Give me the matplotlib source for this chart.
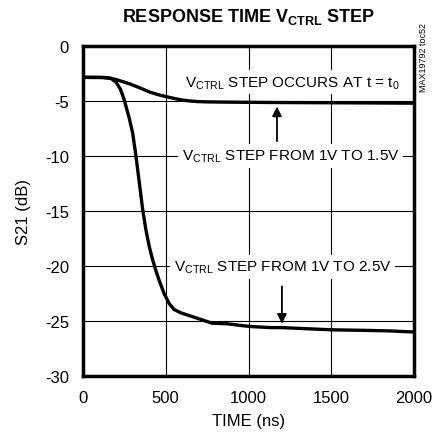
import matplotlib
matplotlib.use("Agg")
import matplotlib.pyplot as plt

plt.rcParams['font.family'] = ['Liberation Sans', 'DejaVu Sans']
plt.rcParams['mathtext.fontset'] = 'custom'
plt.rcParams['mathtext.rm'] = 'Liberation Sans'
plt.rcParams['axes.unicode_minus'] = False

# VCTRL step 1V -> 1.5V
t_small = [0, 100, 145, 200, 284, 350, 405, 460, 507, 560, 604, 650, 689, 750, 850, 1000, 1200, 1500, 1800, 2000]
s21_small = [-2.85, -2.85, -2.87, -3.05, -3.45, -3.85, -4.2, -4.45, -4.62, -4.8, -4.92, -5.0, -5.05, -5.08, -5.1, -5.12, -5.14, -5.16, -5.18, -5.2]

# VCTRL step 1V -> 2.5V
t_large = [0, 120, 170, 200, 225, 245, 262, 280, 300, 320, 340, 360, 380, 400, 420, 440, 460, 490, 520, 550, 590, 630, 670, 710, 780, 870, 950, 1010, 1130, 1200, 1350, 1500, 1700, 1850, 2000]
s21_large = [-2.85, -2.87, -2.95, -3.3, -3.9, -4.7, -5.6, -6.6, -7.9, -10.0, -12.4, -14.8, -16.7, -18.2, -19.4, -20.4, -21.3, -22.5, -23.4, -23.95, -24.25, -24.45, -24.65, -24.85, -25.2, -25.25, -25.4, -25.5, -25.6, -25.6, -25.7, -25.8, -25.85, -25.9, -26.0]

xticks = [0, 500, 1000, 1500, 2000]
yticks = [0, -5, -10, -15, -20, -25, -30]

V = r'V$_{\mathregular{CTRL}}$'

fig = plt.figure(figsize=(4.32, 4.39), dpi=100)
ax = fig.add_axes([83 / 432, 1 - 377 / 439, 331 / 432, 330 / 439])

ax.plot(t_small, s21_small, color='black', lw=2.4, zorder=3, solid_joinstyle='round')
ax.plot(t_large, s21_large, color='black', lw=2.4, zorder=3, solid_joinstyle='round')

ax.set_xlim(0, 2000)
ax.set_ylim(-30, 0)
ax.set_xticks(xticks)
ax.set_yticks(yticks)
ax.tick_params(length=0, labelsize=12, pad=10)
ax.grid(True, color='black', lw=0.8)
for s in ax.spines.values():
    s.set_linewidth(2.5)

ax.set_xlabel('TIME (ns)', fontsize=12, labelpad=6)
ax.set_ylabel('S21 (dB)', fontsize=12, labelpad=10)
fig.text(248 / 432, 1 - 17 / 439, 'RESPONSE TIME ' + V + ' STEP', ha='center', va='center',
         fontsize=13, fontweight='bold')
fig.text(424 / 432, 1 - 58 / 439, 'MAX19792 toc52', rotation=90, ha='center', va='center', fontsize=6.5)

box = dict(facecolor='white', edgecolor='none', pad=2.5)
ax.text(1263, -3.3, V + ' STEP OCCURS AT t = t$_{\\mathregular{0}}$', ha='center', va='center',
        fontsize=11, bbox=box, zorder=4)
ax.text(1255, -10, V + ' STEP FROM 1V TO 1.5V', ha='center', va='center', fontsize=11, bbox=box, zorder=4)
ax.text(1205, -20.1, V + ' STEP FROM 1V TO 2.5V', ha='center', va='center', fontsize=11, bbox=box, zorder=4)

ax.annotate('', xy=(1172, -5.25), xytext=(1172, -8.9),
            arrowprops=dict(arrowstyle='-|>', color='black', lw=1.3, mutation_scale=14), zorder=4)
ax.annotate('', xy=(1202, -25.5), xytext=(1202, -21.6),
            arrowprops=dict(arrowstyle='-|>', color='black', lw=1.3, mutation_scale=14), zorder=4)

fig.savefig('out.png', dpi=100)
